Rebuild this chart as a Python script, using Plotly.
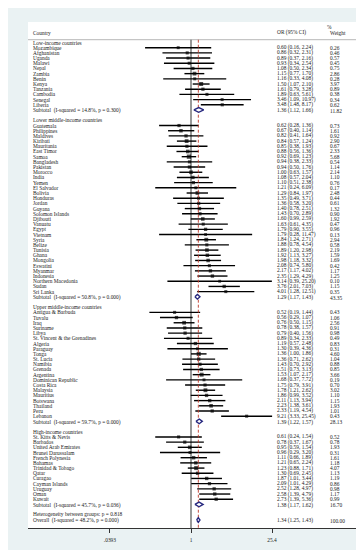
import plotly.graph_objects as go

# ---------------- data ----------------
low_names = ["Mozambique", "Afghanistan", "Uganda", "Malawi", "Nepal", "Zambia", "Benin",
             "Kenya", "Tanzania", "Cambodia", "Senegal", "Liberia"]
low_or = [0.60, 0.86, 0.89, 0.93, 1.08, 1.15, 1.16, 1.50, 1.61, 1.89, 3.46, 3.48]
low_lo = [0.16, 0.32, 0.37, 0.34, 0.50, 0.77, 0.33, 1.07, 0.79, 0.63, 1.09, 1.48]
low_hi = [2.24, 2.31, 2.16, 2.54, 2.34, 1.70, 4.08, 2.10, 3.28, 5.61, 10.97, 8.17]
low_w = [0.26, 0.46, 0.57, 0.45, 0.75, 2.86, 0.28, 3.97, 0.89, 0.38, 0.34, 0.62]

lmi_names = ["Guatemala", "Philippines", "Maldives", "Kiribati", "Mauritania", "East Timor",
             "Samoa", "Bangladesh", "Pakistan", "Morocco", "India", "Yemen", "El Salvador",
             "Bolivia", "Honduras", "Jordan", "Guyana", "Solomon Islands", "Djibouti",
             "Vanuatu", "Egypt", "Vietnam", "Syria", "Belize", "Tunisia", "Ghana",
             "Mongolia", "Eswatini", "Myanmar", "Indonesia", "Northern Macedonia",
             "Sudan", "Sri Lanka"]
lmi_or = [0.62, 0.67, 0.82, 0.84, 0.85, 0.88, 0.92, 0.94, 0.94, 1.00, 1.08, 1.10, 1.21,
          1.29, 1.35, 1.36, 1.40, 1.43, 1.60, 1.63, 1.79, 1.79, 1.84, 1.88, 1.89, 1.92,
          1.98, 2.08, 2.17, 2.35, 3.14, 3.76, 4.01]
lmi_lo = [0.28, 0.40, 0.41, 0.57, 0.38, 0.56, 0.69, 0.38, 0.50, 0.63, 0.57, 0.51, 0.24,
          0.84, 0.49, 0.58, 0.78, 0.70, 0.99, 0.61, 0.90, 0.28, 1.24, 0.78, 1.20, 1.13,
          1.18, 0.74, 1.17, 1.29, 0.39, 2.01, 1.28]
lmi_hi = [1.36, 1.14, 1.64, 1.24, 1.93, 1.36, 1.23, 2.33, 1.76, 1.57, 2.04, 2.38, 6.09,
          1.97, 3.71, 3.20, 2.51, 2.89, 2.59, 4.35, 3.55, 11.47, 2.71, 4.54, 2.98, 3.27,
          3.32, 5.80, 4.02, 4.29, 25.20, 7.03, 12.51]
lmi_w = [0.73, 1.61, 0.92, 2.90, 0.67, 2.33, 5.68, 0.54, 1.14, 2.14, 1.10, 0.76, 0.17,
         2.48, 0.44, 0.61, 1.32, 0.90, 1.92, 0.47, 0.96, 0.13, 2.94, 0.58, 2.19, 1.59,
         1.69, 0.42, 1.17, 1.25, 0.10, 1.15, 0.35]

umi_names = ["Antigua & Barbuda", "Tuvalu", "Iraq", "Suriname", "Libya",
             "St. Vincent & the Grenadines", "Algeria", "Paraguay", "Tonga", "St. Lucia",
             "Namibia", "Grenada", "Argentina", "Dominican Republic", "Costa Rica",
             "Malaysia", "Mauritius", "Botswana", "Thailand", "Peru", "Lebanon"]
umi_or = [0.52, 0.56, 0.76, 0.78, 0.79, 0.89, 1.19, 1.30, 1.36, 1.36, 1.43, 1.51, 1.53,
          1.68, 1.75, 1.78, 1.86, 2.11, 2.23, 2.33, 9.21]
umi_lo = [0.19, 0.29, 0.50, 0.38, 0.40, 0.34, 0.57, 0.39, 1.00, 0.71, 0.70, 0.73, 1.07,
          0.37, 0.79, 1.21, 0.99, 1.13, 1.38, 1.19, 3.33]
umi_hi = [1.44, 1.07, 1.15, 1.57, 1.56, 2.33, 2.48, 4.36, 1.86, 2.62, 2.92, 3.13, 2.17,
          7.72, 3.91, 2.62, 3.52, 3.94, 3.61, 4.54, 25.45]
umi_w = [0.43, 1.06, 2.56, 0.91, 0.98, 0.49, 0.83, 0.31, 4.60, 1.04, 0.88, 0.85, 3.66,
         0.19, 0.70, 3.02, 1.10, 1.15, 1.93, 1.01, 0.43]

hi_names = ["St. Kitts & Nevis", "Barbados", "United Arab Emirates", "Brunei Darussalam",
            "French Polynesia", "Bahamas", "Trinidad & Tobago", "Qatar", "Curagao",
            "Cayman Islands", "Uruguay", "Oman", "Kuwait"]
hi_or = [0.61, 0.78, 0.95, 0.96, 1.11, 1.21, 1.23, 1.30, 1.87, 2.09, 2.52, 2.58, 2.73]
hi_lo = [0.24, 0.37, 0.59, 0.29, 0.66, 0.65, 0.88, 0.69, 1.01, 1.01, 1.28, 1.39, 1.39]
hi_hi = [1.54, 1.67, 1.54, 3.20, 1.89, 2.24, 1.71, 2.45, 3.44, 4.29, 4.97, 4.79, 5.36]
hi_w = [0.52, 0.78, 1.93, 0.31, 1.61, 1.18, 4.07, 1.13, 1.19, 0.86, 0.98, 1.17, 0.99]

group_titles = ["Low-income countries", "Lower middle-income countries",
                "Upper middle-income countries", "High-income countries"]
sub_or = [1.36, 1.29, 1.39, 1.38]
sub_lo = [1.12, 1.17, 1.22, 1.17]
sub_hi = [1.66, 1.43, 1.57, 1.62]
sub_w = [11.82, 43.35, 28.13, 16.70]
sub_i2 = ["14.8%", "50.8%", "59.7%", "45.7%"]
sub_p = ["0.300", "0.000", "0.000", "0.036"]

overall_or, overall_lo, overall_hi, overall_w = 1.34, 1.25, 1.43, 100.00
overall_i2, overall_p = "48.2%", "0.000"
het_p = "0.818"

tick_vals = [0.0393, 1, 25.4]
tick_text = [".0393", "1", "25.4"]

# ---------------- layout constants ----------------
W, H = 364, 550
PX_L, PX_R = 20, 348          # plot area in pixels
PX_ONE = 183.0                # pixel of OR = 1
PX_PER_DEC = 57.7
ROW0_Y, ROW_H = 34.5, 5.19
PY_TOP, PY_BOT = 14, 520

xr = [(PX_L - PX_ONE) / PX_PER_DEC, (PX_R - PX_ONE) / PX_PER_DEC]
yr = [(PY_BOT - ROW0_Y) / ROW_H, (PY_TOP - ROW0_Y) / ROW_H]

def px2paper(px):
    return (px - PX_L) / (PX_R - PX_L)

X_NAME = px2paper(24)
X_OR = px2paper(268)
X_W = px2paper(321)
X_PCT = px2paper(318)

FONT = "Liberation Serif"
FS = 5.4
TXT = "#1a1a1a"
NAVY = "#27287f"

groups = [
    (low_names, low_or, low_lo, low_hi, low_w),
    (lmi_names, lmi_or, lmi_lo, lmi_hi, lmi_w),
    (umi_names, umi_or, umi_lo, umi_hi, umi_w),
    (hi_names, hi_or, hi_lo, hi_hi, hi_w),
]

annotations = []

def add_text(x, y, s, dy=0):
    annotations.append(dict(x=x, y=y, xref="paper", yref="y", text=s, showarrow=False,
                            xanchor="left", yanchor="middle", yshift=dy,
                            font=dict(family=FONT, size=FS, color=TXT), borderpad=0))

study_x, study_y, study_w = [], [], []
ci_x, ci_y = [], []
diamonds = []

row = 0
for gi, (names, ors, los, his, ws) in enumerate(groups):
    add_text(X_NAME, row, group_titles[gi])
    row += 1
    for n, o, l, h, w in zip(names, ors, los, his, ws):
        add_text(X_NAME, row, n)
        add_text(X_OR, row, f"{o:.2f} ({l:.2f}, {h:.2f})")
        add_text(X_W, row, f"{w:.2f}")
        study_x.append(o); study_y.append(row); study_w.append(w)
        ci_x += [l, h, None]; ci_y += [row, row, None]
        row += 1
    add_text(X_NAME, row, f"Subtotal  (I-squared = {sub_i2[gi]}, p = {sub_p[gi]})", -0.7)
    add_text(X_OR, row, f"{sub_or[gi]:.2f} ({sub_lo[gi]:.2f}, {sub_hi[gi]:.2f})", -0.7)
    add_text(X_W, row, f"{sub_w[gi]:.2f}", -0.7)
    diamonds.append((sub_or[gi], sub_lo[gi], sub_hi[gi], row))
    row += 2

add_text(X_NAME, row, f"Heterogeneity between groups: p = {het_p}", 0.4)
row += 1
add_text(X_NAME, row, f"Overall  (I-squared = {overall_i2}, p = {overall_p})", -0.8)
add_text(X_OR, row, f"{overall_or:.2f} ({overall_lo:.2f}, {overall_hi:.2f})", -0.8)
add_text(X_W, row, f"{overall_w:.2f}", -0.8)
diamonds.append((overall_or, overall_lo, overall_hi, row))

# headers
hdr_y = (24.7 - ROW0_Y) / ROW_H
pct_y = (18.8 - ROW0_Y) / ROW_H
line_y = (31.7 - ROW0_Y) / ROW_H
add_text(X_NAME, hdr_y, "Country")
add_text(X_OR, hdr_y, "OR (95% CI)")
add_text(X_PCT, pct_y, "%")
add_text(X_W, hdr_y, "Weight")

fig = go.Figure()

# null line at OR = 1
fig.add_trace(go.Scatter(x=[1, 1], y=[line_y, yr[0]], mode="lines",
                         line=dict(color="#555555", width=1.2), hoverinfo="skip"))
# CI lines
fig.add_trace(go.Scatter(x=ci_x, y=ci_y, mode="lines",
                         line=dict(color="black", width=1.4), hoverinfo="skip"))
# point estimates
fig.add_trace(go.Scatter(x=study_x, y=study_y, mode="markers",
                         marker=dict(symbol="square", color="black",
                                     size=[2.6 + 0.7 * (w ** 0.5) for w in study_w],
                                     line=dict(width=0)),
                         hoverinfo="skip"))
# overall dashed line
fig.add_trace(go.Scatter(x=[overall_or, overall_or], y=[line_y, yr[0]], mode="lines",
                         line=dict(color="#c0392b", width=0.9, dash="3px,2px"),
                         hoverinfo="skip"))
# diamonds
dh = 0.45
for (o, l, h, r) in diamonds:
    fig.add_trace(go.Scatter(x=[l, o, h, o, l], y=[r, r - dh, r, r + dh, r],
                             mode="lines", fill="toself", fillcolor="white",
                             line=dict(color=NAVY, width=1.4), hoverinfo="skip"))

fig.update_layout(
    width=W, height=H,
    margin=dict(l=PX_L, r=W - PX_R, t=PY_TOP, b=H - PY_BOT),
    paper_bgcolor="#eaf2f3", plot_bgcolor="white",
    showlegend=False,
    annotations=annotations,
    shapes=[dict(type="line", xref="paper", yref="y", x0=0, x1=1, y0=line_y, y1=line_y,
                 line=dict(color="#9a9a9a", width=0.7), layer="below")],
    xaxis=dict(type="log", range=xr, showgrid=False, zeroline=False,
               showline=True, linecolor="#333333", linewidth=1,
               ticks="outside", ticklen=4, tickcolor="#333333", tickwidth=1,
               tickvals=tick_vals, ticktext=tick_text, ticklabelstandoff=3,
               tickfont=dict(family=FONT, size=FS, color=TXT), fixedrange=True),
    yaxis=dict(range=yr, visible=False, fixedrange=True),
)

fig.write_html("out.html")
